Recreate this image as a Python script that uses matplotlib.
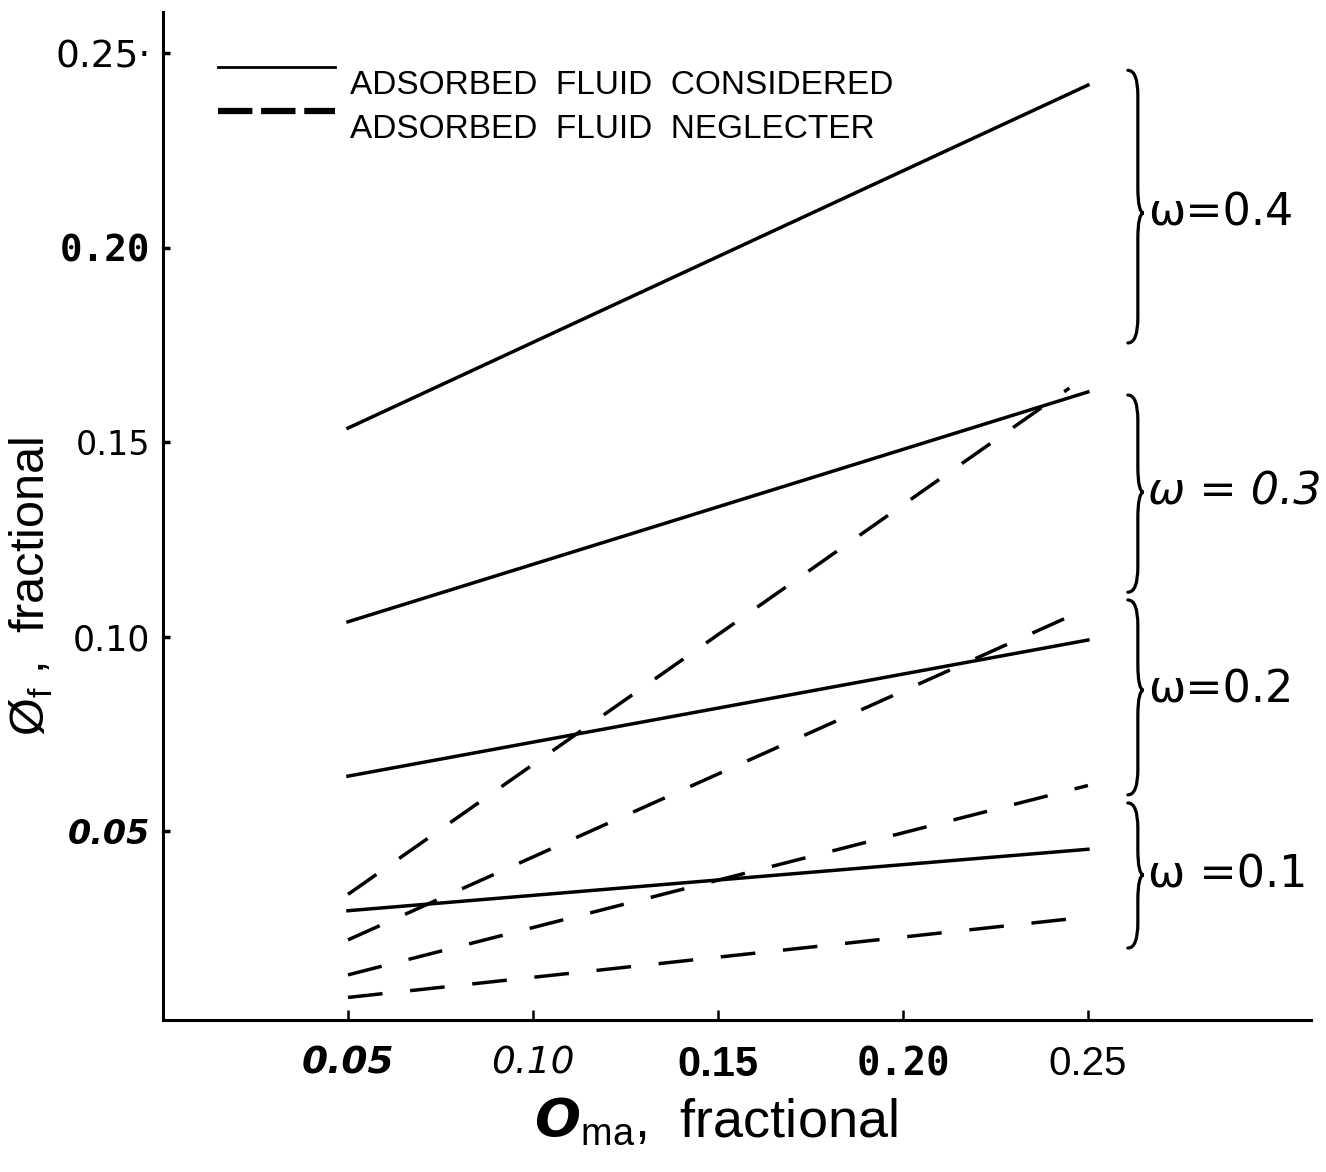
import matplotlib
matplotlib.use('Agg')
import matplotlib.pyplot as plt
from matplotlib import font_manager
from matplotlib.lines import Line2D
from matplotlib.path import Path
from matplotlib.patches import PathPatch
from matplotlib.legend_handler import HandlerLine2D

plt.rcParams['mathtext.fontset'] = 'custom'
plt.rcParams['mathtext.bf'] = 'DejaVu Sans:bold:oblique'
plt.rcParams['mathtext.rm'] = 'Liberation Sans'

# porosity of matrix (x) and fluid porosity (y)
phi_ma = [0.05, 0.25]
phi_ma_neg04 = [0.05, 0.245]

# adsorbed fluid considered (solid lines)
cons_w01 = [0.0295, 0.0453]
cons_w02 = [0.0641, 0.0991]
cons_w03 = [0.1038, 0.1629]
cons_w04 = [0.1536, 0.2418]

# adsorbed fluid neglected (dashed lines)
neg_w01 = [0.0072, 0.0279]
neg_w02 = [0.0130, 0.0617]
neg_w03 = [0.0220, 0.1073]
neg_w04 = [0.0337, 0.1639]

omega_labels = ['ω=0.4', 'ω = 0.3', 'ω=0.2', 'ω =0.1']
# brace extents (top, bottom, tip) in data units
brace_top = [0.2456, 0.1621, 0.1094, 0.0572]
brace_bot = [0.1755, 0.1114, 0.0593, 0.0199]
brace_tip = [0.2089, 0.1371, 0.0862, 0.0387]

xticks = [0.05, 0.10, 0.15, 0.20, 0.25]
xticklabels = ['0.05', '0.10', '0.15', '0.20', '0.25']
yticks = [0.05, 0.10, 0.15, 0.20, 0.25]
yticklabels = ['0.05', '0.10', '0.15', '0.20', '0.25·']

names = {f.name for f in font_manager.fontManager.ttflist}
narrow = 'Liberation Sans Narrow' if 'Liberation Sans Narrow' in names else 'Liberation Sans'

W, H = 1326, 1172
fig = plt.figure(figsize=(W / 100, H / 100), dpi=100)
ax = fig.add_axes([163 / W, (H - 1020) / H, (1311 - 163) / W, (1020 - 12) / H])

lw = 2.5
dash = (10, 8)
ax.plot(phi_ma, cons_w04, color='black', lw=lw)
ax.plot(phi_ma, cons_w03, color='black', lw=lw)
ax.plot(phi_ma, cons_w02, color='black', lw=lw)
ax.plot(phi_ma, cons_w01, color='black', lw=lw)
ax.plot(phi_ma_neg04, neg_w04, color='black', lw=lw, dashes=dash)
ax.plot(phi_ma, neg_w03, color='black', lw=lw, dashes=dash)
ax.plot(phi_ma, neg_w02, color='black', lw=lw, dashes=dash)
ax.plot(phi_ma, neg_w01, color='black', lw=lw, dashes=dash)

ax.set_xlim(0, 0.3103)
ax.set_ylim(0.0014, 0.2606)
for s in ['top', 'right']:
    ax.spines[s].set_visible(False)
for s in ['left', 'bottom']:
    ax.spines[s].set_linewidth(2.2)

ax.set_xticks(xticks)
ax.set_xticklabels(xticklabels)
ax.set_yticks(yticks)
ax.set_yticklabels(yticklabels)
ax.tick_params(axis='x', direction='in', length=7, width=1.8, pad=18)
ax.tick_params(axis='y', direction='in', length=5, width=2.5, pad=9)

xfonts = [dict(family='DejaVu Sans', weight='bold', style='italic', size=27),
          dict(family='DejaVu Sans', weight='normal', style='italic', size=27),
          dict(family=narrow, weight='bold', style='normal', size=30),
          dict(family='DejaVu Sans Mono', weight='bold', style='normal', size=28),
          dict(family=narrow, weight='normal', style='normal', size=29)]
for t, f in zip(ax.get_xticklabels(), xfonts):
    t.set_fontfamily(f['family'])
    t.set_fontweight(f['weight'])
    t.set_fontstyle(f['style'])
    t.set_fontsize(f['size'])

yfonts = [dict(family='DejaVu Sans', weight='semibold', style='italic', size=24),
          dict(family='DejaVu Sans', weight='normal', style='normal', size=25),
          dict(family='DejaVu Sans', weight='normal', style='normal', size=24),
          dict(family='DejaVu Sans Mono', weight='bold', style='normal', size=27),
          dict(family='DejaVu Sans', weight='normal', style='normal', size=27)]
for t, f in zip(ax.get_yticklabels(), yfonts):
    t.set_fontfamily(f['family'])
    t.set_fontweight(f['weight'])
    t.set_fontstyle(f['style'])
    t.set_fontsize(f['size'])

# axis labels
ax.set_xlabel(r'$\mathbf{O}_{\mathrm{ma}}$,  fractional', fontsize=39, family='Liberation Sans')
ax.xaxis.set_label_coords(0.482, -0.076)
ax.set_ylabel(r'Ø$_{\mathrm{f}}$ ,  fractional', fontsize=35, family='Liberation Sans')
ax.yaxis.set_label_coords(-0.094, 0.43)


class RaisedLine(HandlerLine2D):
    # legend sample sits a bit higher than its text, as in the drawing
    def create_artists(self, legend, orig_handle, xdescent, ydescent, width, height, fontsize, trans):
        arts = super().create_artists(legend, orig_handle, xdescent, ydescent, width, height, fontsize, trans)
        for a in arts:
            a.set_ydata([y + 0.45 * fontsize for y in a.get_ydata()])
        return arts


h1 = Line2D([], [], color='black', lw=2)
h2 = Line2D([], [], color='black', lw=4.5, dashes=(5.5, 1.4))
ax.legend([h1, h2], ['ADSORBED  FLUID  CONSIDERED', 'ADSORBED  FLUID  NEGLECTER'],
          handler_map={h1: RaisedLine(), h2: RaisedLine()},
          loc='upper left', bbox_to_anchor=(218 / W, 1 - 70 / H), bbox_transform=fig.transFigure,
          frameon=False, handlelength=3.5, handletextpad=0.45, labelspacing=0.38,
          borderpad=0, borderaxespad=0, prop=dict(family='Liberation Sans', size=24))


def brace(ax, x, top, bot, tip, w=0.0027, t=0.0016, h=0.0065):
    verts = [(x - w, top), (x, top), (x, top - h),
             (x, tip + h), (x, tip), (x + t, tip),
             (x, tip), (x, tip - h),
             (x, bot + h), (x, bot), (x - w, bot)]
    codes = [Path.MOVETO, Path.CURVE3, Path.CURVE3,
             Path.LINETO, Path.CURVE3, Path.CURVE3,
             Path.CURVE3, Path.CURVE3,
             Path.LINETO, Path.CURVE3, Path.CURVE3]
    ax.add_patch(PathPatch(Path(verts, codes), fill=False, lw=2.3, ec='black',
                           capstyle='round', clip_on=False))


for lab, tp, bt, tip in zip(omega_labels, brace_top, brace_bot, brace_tip):
    brace(ax, 0.2635, tp, bt, tip)
    ax.text(0.2662, tip, lab, fontsize=32, family='DejaVu Sans', va='center', ha='left',
            style='italic' if '0.3' in lab else 'normal')

fig.savefig('out.png', dpi=100)
